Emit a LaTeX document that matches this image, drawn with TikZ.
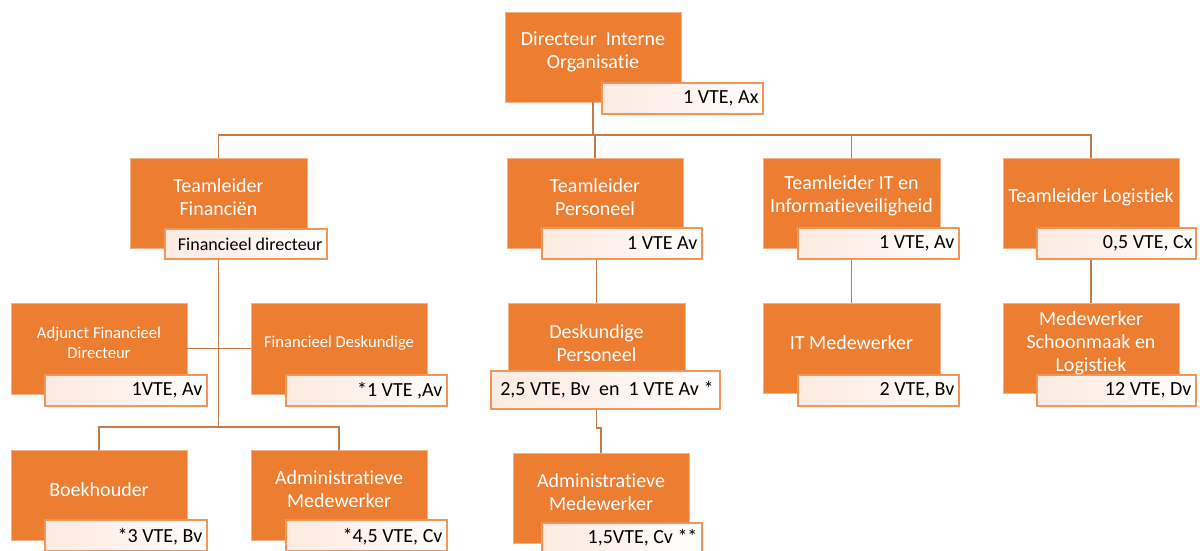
\documentclass[tikz,border=0pt]{standalone}
\usepackage{fontspec}
\setmainfont{Carlito}[Ligatures=NoCommon]
\usetikzlibrary{fit}
\definecolor{oran}{HTML}{ED7D31}
\definecolor{oedge}{HTML}{F4B183}
\definecolor{ledge}{HTML}{F0965A}
\definecolor{lpink}{HTML}{FCEBE1}
\definecolor{conncol}{HTML}{C47C4A}
\newcommand\tii{t\kern0pt i}
\begin{document}
\begin{tikzpicture}[x=0.5pt,y=-0.5pt,
  obox/.style={fill=oran, draw=oedge, line width=0.4pt, inner sep=0pt},
  labbox/.style={draw=ledge, line width=0.85pt, left color=lpink, right color=white, middle color=lpink!60, inner sep=0pt},
  otext/.style={text=white, align=center, font=\fontsize{10}{11.5}\selectfont, inner sep=0pt},
  osmall/.style={text=white, align=center, font=\fontsize{8.3}{10}\selectfont, inner sep=0pt},
  ltext/.style={text=black, font=\fontsize{10}{12}\selectfont, inner sep=0pt, anchor=east},
  lsmall/.style={text=black, font=\fontsize{9}{11}\selectfont, inner sep=0pt, anchor=east},
  connline/.style={draw=conncol, line width=0.8pt}]
\useasboundingbox (0,0) rectangle (1200,551);
\clip (0,0) rectangle (1200,551);

% ---- boxes ----
\node[obox, fit={(505,12)(681,102)}] (dir) {};
\node[obox, fit={(130,158)(307,248)}] (fin) {};
\node[obox, fit={(507,158)(683,248)}] (pers) {};
\node[obox, fit={(763,158)(940,248)}] (it) {};
\node[obox, fit={(1003,158)(1179,248)}] (log) {};
\node[obox, fit={(11,303)(187,394)}] (adj) {};
\node[obox, fit={(251,303)(427,394)}] (fd) {};
\node[obox, fit={(508,303)(685,380)}] (dp) {};
\node[obox, fit={(763,303)(940,393)}] (itm) {};
\node[obox, fit={(1003,303)(1179,393)}] (lm) {};
\node[obox, fit={(11,450)(187,540)}] (bk) {};
\node[obox, fit={(251,450)(427,540)}] (ad) {};
\node[obox, fit={(513,453)(689,543)}] (ap) {};

% ---- labels ----
\node[labbox, fit={(602,83)(763,114)}] (dirL) {};
\node[labbox, fit={(165,229)(327,259)}] (finL) {};
\node[labbox, fit={(542,228)(702,259)}] (persL) {};
\node[labbox, fit={(798,228)(959,259)}] (itL) {};
\node[labbox, fit={(1037,228)(1196,259)}] (logL) {};
\node[labbox, fit={(45,375)(207,406)}] (adjL) {};
\node[labbox, fit={(286,375)(447,406)}] (fdL) {};
\node[labbox, fit={(491,371)(720,409)}] (dpL) {};
\node[labbox, fit={(798,375)(959,406)}] (itmL) {};
\node[labbox, fit={(1037,375)(1196,406)}] (lmL) {};
\node[labbox, fit={(45,520)(207,551)}] (bkL) {};
\node[labbox, fit={(286,520)(447,551)}] (adL) {};
\node[labbox, fit={(542,523)(702,554)}] (apL) {};

% ---- box texts ----
\node[otext] (dirT) at (593,51.5) {Directeur\ \ Interne\\Organisa\tii e};
\node[otext] (finT) at (218.5,197) {Teamleider\\Financiën};
\node[otext] (persT) at (595,197) {Teamleider\\Personeel};
\node[otext] (itT) at (851.5,196) {Teamleider IT en\\Informa\tii eveiligheid};
\node[otext] (logT) at (1091,197) {Teamleider Logis\tii ek};
\node[osmall] (adjT) at (99,343) {Adjunct Financieel\\Directeur};
\node[osmall] (fdT) at (339,343) {Financieel Deskundige};
\node[otext] (dpT) at (596.5,343.5) {Deskundige\\Personeel};
\node[otext] (itmT) at (851.5,343) {IT Medewerker};
\node[otext] (lmT) at (1091,343) {Medewerker\\Schoonmaak en\\Logis\tii ek};
\node[otext] (bkT) at (99,490) {Boekhouder};
\node[otext] (adT) at (339,489) {Administra\tii eve\\Medewerker};
\node[otext] (apT) at (601,492) {Administra\tii eve\\Medewerker};

% ---- label texts ----
\node[ltext] (dirV) at ([xshift=-2.5pt]dirL.east) {1 VTE, Ax};
\node[lsmall] (finV) at ([xshift=-2.5pt]finL.east) {Financieel directeur};
\node[ltext] (persV) at ([xshift=-2.5pt]persL.east) {1 VTE Av};
\node[ltext] (itV) at ([xshift=-2.5pt]itL.east) {1 VTE, Av};
\node[ltext] (logV) at ([xshift=-2pt]logL.east) {0,5 VTE, Cx};
\node[ltext] (adjV) at ([xshift=-2.5pt]adjL.east) {1VTE, Av};
\node[ltext] (fdV) at ([xshift=-2.5pt]fdL.east) {*1 VTE ,Av};
\node[ltext] (dpV) at ([xshift=-3.5pt]dpL.east) {2,5 VTE, Bv\ \ en\ \ 1 VTE Av *};
\node[ltext] (itmV) at ([xshift=-2.5pt]itmL.east) {2 VTE, Bv};
\node[ltext] (lmV) at ([xshift=-2.5pt]lmL.east) {12 VTE, Dv};
\node[ltext] (bkV) at ([xshift=-2.5pt,yshift=-0.5pt]bkL.east) {*3 VTE, Bv};
\node[ltext] (adV) at ([xshift=-2.5pt,yshift=-0.5pt]adL.east) {*4,5 VTE, Cv};
\node[ltext] (apV) at ([xshift=-2.5pt,yshift=0.5pt]apL.east) {1,5VTE, Cv **};

% ---- connectors ----
\coordinate (b1) at (0,135);
\coordinate (b2) at (0,427);
\coordinate (b3) at (0,428);
\draw[connline] (dir.south) -- (dir.south |- b1);
\draw[connline] (fin.north) -- (fin.north |- b1) -- (log.north |- b1) -- (log.north);
\draw[connline] (pers.north |- b1) -- (pers.north);
\draw[connline] (it.north |- b1) -- (it.north);
\draw[connline] (fin.south |- finL.south) -- (fin.south |- b2);
\draw[connline] (bk.north) -- (bk.north |- b2) -- (ad.north |- b2) -- (ad.north);
\draw[connline] (adj.east) -- (fd.west);
\draw[connline] (dp.north |- persL.south) -- (dp.north);
\draw[connline] (dp.south |- dpL.south) -- (dp.south |- b3) -- (ap.north |- b3) -- (ap.north);
\draw[connline] (it.south |- itL.south) -- (itm.north);
\draw[connline] (log.south |- logL.south) -- (lm.north);
\end{tikzpicture}
\end{document}
